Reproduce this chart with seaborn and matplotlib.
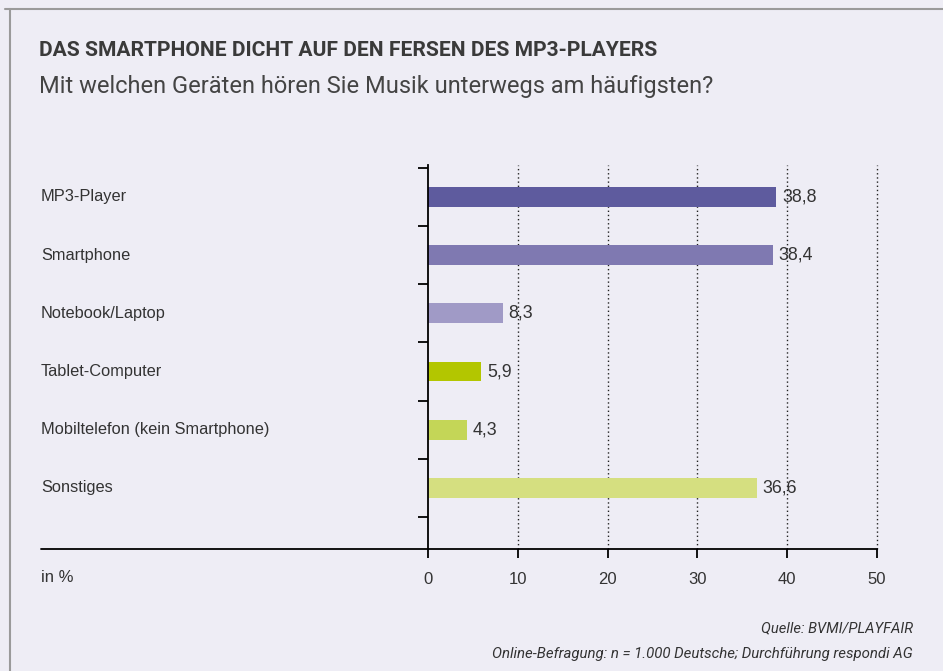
import matplotlib
matplotlib.use("Agg")
import matplotlib.pyplot as plt
from matplotlib.lines import Line2D
import seaborn as sns
import pandas as pd

categories = ["MP3-Player", "Smartphone", "Notebook/Laptop", "Tablet-Computer",
              "Mobiltelefon (kein Smartphone)", "Sonstiges"]
values = [38.8, 38.4, 8.3, 5.9, 4.3, 36.6]
value_labels = ["38,8", "38,4", "8,3", "5,9", "4,3", "36,6"]
colors = ["#5E5B9E", "#7F79B1", "#A09AC6", "#B3C600", "#C4D657", "#D5DF80"]
x_ticks = [0, 10, 20, 30, 40, 50]

title = "DAS SMARTPHONE DICHT AUF DEN FERSEN DES MP3-PLAYERS"
subtitle = "Mit welchen Geräten hören Sie Musik unterwegs am häufigsten?"
unit = "in %"
source1 = "Quelle: BVMI/PLAYFAIR"
source2 = "Online-Befragung: n = 1.000 Deutsche; Durchführung respondi AG"

sns.set_style("white")
plt.rcParams["font.family"] = ["Liberation Sans", "DejaVu Sans"]
ROB = ["Roboto", "Liberation Sans", "DejaVu Sans"]

BG = "#EEEDF5"
TXT = "#333333"
W, H = 943, 671
fig = plt.figure(figsize=(W / 100, H / 100), dpi=100, facecolor=BG)

# axes from pixel x 428..877, y 165..549
ax = fig.add_axes([428 / W, 1 - 549 / H, (877 - 428) / W, (549 - 165) / H])
ax.set_facecolor(BG)

df = pd.DataFrame({"cat": categories, "val": values})
sns.barplot(data=df, y="cat", x="val", hue="cat", palette=colors, width=0.34,
            legend=False, ax=ax, orient="h", saturation=1, linewidth=0,
            edgecolor="none")

ax.set_xlim(0, 50)
ax.set_ylim(6.05, -0.55)
ax.set_xlabel("")
ax.set_ylabel("")

for s in ["top", "right"]:
    ax.spines[s].set_visible(False)
for s in ["left", "bottom"]:
    ax.spines[s].set_color("black")
    ax.spines[s].set_linewidth(1.3)
    ax.spines[s].set_zorder(5)

ax.set_xticks(x_ticks)
ax.set_xticklabels([str(t) for t in x_ticks], fontsize=12, color=TXT)
ax.tick_params(axis="x", bottom=True, direction="out", length=6.5, width=1.3,
               color="black", pad=10)
ax.set_yticks([i - 0.5 for i in range(len(categories) + 1)])
ax.set_yticklabels([])
ax.tick_params(axis="y", left=True, direction="out", length=7, width=1.3, color="black")

for t in x_ticks[1:]:
    ax.axvline(t, color="#222222", linestyle=(0, (1, 2)), linewidth=1.0, zorder=0,
               clip_on=False)

for i, (v, lab) in enumerate(zip(values, value_labels)):
    ax.text(v + 0.65, i, lab, va="center", ha="left", fontsize=12.8, color=TXT)

# category labels
fig.canvas.draw()
for i, c in enumerate(categories):
    y_fig = ax.transData.transform((0, i))[1]
    fig.text(41 / W, y_fig / H, c, va="center", ha="left", fontsize=11.8, color=TXT)

# extended baseline
fig.add_artist(Line2D([41 / W, 428 / W], [1 - 549 / H, 1 - 549 / H],
                      color="black", linewidth=1.3))
fig.text(41 / W, 1 - 578 / H, unit, va="center", ha="left", fontsize=12, color=TXT)

# frame
fig.add_artist(Line2D([5 / W, 1], [1 - 8.5 / H, 1 - 8.5 / H], color="#9A9A9A", linewidth=1.5))
fig.add_artist(Line2D([9.5 / W, 9.5 / W], [0, 1 - 8.5 / H], color="#9A9A9A", linewidth=1.5))

# title
fig.text(39 / W, 1 - 50 / H, title, va="center", ha="left", fontsize=15.1,
         fontweight="bold", color="#3A3A3A", family=ROB)
fig.text(39 / W, 1 - 87 / H, subtitle, va="center", ha="left", fontsize=17,
         fontweight="normal", color="#444444", family=ROB)

fig.text(913 / W, 1 - 628 / H, source1, va="center", ha="right", fontsize=10.6,
         style="italic", fontweight="normal", color=TXT, family=ROB)
fig.text(913 / W, 1 - 654 / H, source2, va="center", ha="right", fontsize=10.8,
         style="italic", fontweight="normal", color=TXT, family=ROB)

fig.savefig("out.png", dpi=100, facecolor=BG)
